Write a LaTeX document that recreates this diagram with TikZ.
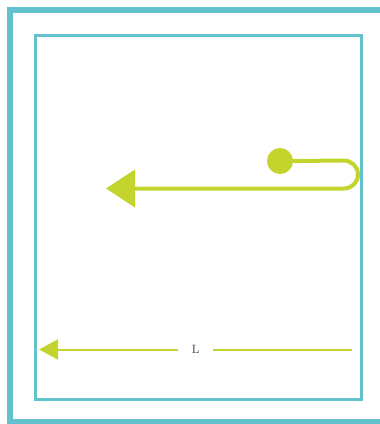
\documentclass[tikz,border=0pt]{standalone}
\usetikzlibrary{arrows.meta}
\definecolor{teal1}{HTML}{62C3CF}
\definecolor{lime1}{HTML}{C3D52C}
\begin{document}
\begin{tikzpicture}[x=1pt,y=-1pt,
  frame/.style={draw=teal1},
  greenline/.style={draw=lime1},
  bigtip/.style={-{Triangle[length=29pt 0 0,width=37pt 0 0]}},
  smalltip/.style={-{Triangle[length=19pt 0 0,width=20pt 0 0]}}]
\clip (0,0) rectangle (380,424);
\fill[white] (0,0) rectangle (380,424);
% outer and inner frames
\draw[frame,line width=6pt] (10,10) rectangle (400,422);
\draw[frame,line width=3pt] (35,35) rectangle (361.5,399.5);
% upper arrow
\node[circle,fill=lime1,minimum size=26pt,inner sep=0pt] (dot) at (280,161) {};
\coordinate (c1) at (358,160.5);
\coordinate (c2) at (358,188.5);
\coordinate (tip1) at (106,188.5);
\draw[greenline,line width=4pt,rounded corners=14pt,bigtip] (dot.center) -- (c1) -- (c2) -- (tip1);
% length arrow
\node[inner sep=0pt,font=\fontsize{12}{14}\selectfont,text=black!80] (L) at (195.5,349.5) {L};
\coordinate (r2) at (352,349.5);
\coordinate (tip2) at (39,349.5);
\draw[greenline,line width=2pt] (r2) -- ([xshift=17.5pt]L.center);
\draw[greenline,line width=2pt,smalltip] ([xshift=-17.5pt]L.center) -- (tip2);
\end{tikzpicture}
\end{document}
